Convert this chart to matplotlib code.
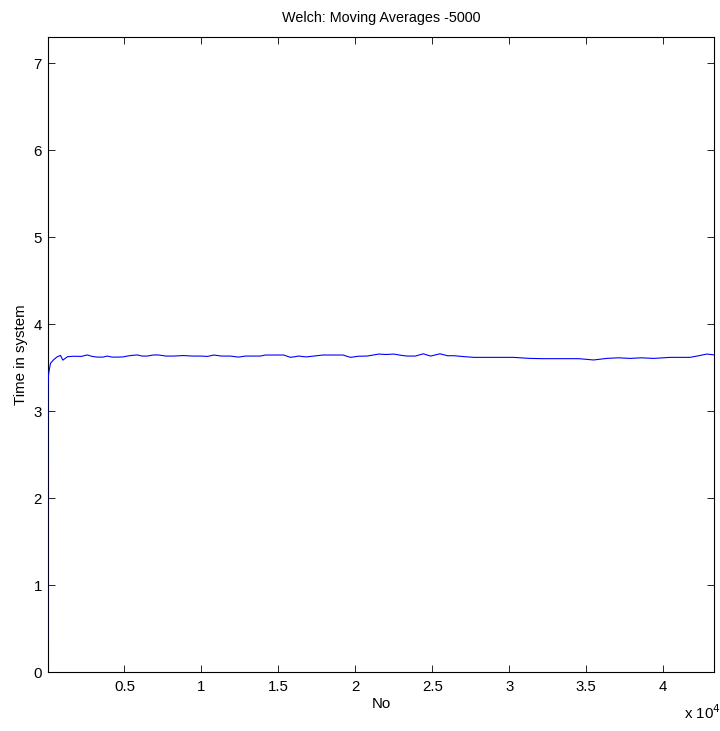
import matplotlib
matplotlib.use("Agg")
import matplotlib.pyplot as plt

plt.rcParams["font.family"] = ["Liberation Sans", "DejaVu Sans"]

# Welch moving-average of time in system (window 5000), by observation number
obs_no = [1, 3, 8, 20, 50, 100, 195, 400, 600, 844, 996, 1300, 1710, 2200, 2575,
          2900, 3225, 3600, 3875, 4200, 4525, 4900, 5175, 5500, 5825, 6150, 6475,
          6900, 7230, 7700, 8200, 8850, 9400, 9935, 10400, 10800, 11300, 11880,
          12400, 12860, 13300, 13830, 14160, 14600, 14915, 15350, 15790, 16330,
          16800, 17305, 17900, 18605, 19200, 19690, 20200, 20775, 21535, 22000,
          22510, 23000, 23380, 23900, 24420, 24895, 25500, 26000, 26415, 27100,
          27715, 28150, 29200, 30280, 31360, 32230, 33400, 34500, 35000, 35480,
          36345, 37100, 37860, 38600, 39380, 40460, 41100, 41760, 42300, 42845,
          43100, 43330]
avg_time = [0.39, 1.60, 2.70, 3.20, 3.39, 3.46, 3.55, 3.59, 3.62, 3.64, 3.585, 3.625,
            3.63, 3.628, 3.645, 3.628, 3.62, 3.62, 3.632, 3.62, 3.62, 3.622, 3.632,
            3.64, 3.645, 3.632, 3.632, 3.645, 3.644, 3.632, 3.632, 3.638, 3.632,
            3.632, 3.628, 3.644, 3.632, 3.632, 3.62, 3.632, 3.632, 3.632, 3.644,
            3.644, 3.644, 3.644, 3.617, 3.632, 3.622, 3.632, 3.644, 3.644, 3.644,
            3.617, 3.630, 3.632, 3.655, 3.650, 3.655, 3.640, 3.632, 3.632, 3.658,
            3.632, 3.658, 3.636, 3.636, 3.625, 3.617, 3.617, 3.617, 3.617, 3.605,
            3.602, 3.602, 3.602, 3.595, 3.587, 3.605, 3.612, 3.605, 3.612, 3.605,
            3.617, 3.617, 3.617, 3.635, 3.655, 3.650, 3.645]

x_ticks = [5000, 10000, 15000, 20000, 25000, 30000, 35000, 40000]
x_tick_labels = ["0.5", "1", "1.5", "2", "2.5", "3", "3.5", "4"]
y_ticks = [0, 1, 2, 3, 4, 5, 6, 7]

fig = plt.figure(figsize=(7.2, 7.31), dpi=100)
ax = fig.add_axes([0.066, 0.0807, 0.926, 0.8687])

ax.plot(obs_no, avg_time, color="#0000ff", linewidth=0.8, zorder=3)

ax.set_xlim(0, 43330)
ax.set_ylim(0, 7.3)
ax.set_xticks(x_ticks)
ax.set_xticklabels(x_tick_labels)
ax.set_yticks(y_ticks)

ax.tick_params(direction="in", length=5, width=0.6, labelsize=10.8,
               top=True, right=True, colors="black")
ax.tick_params(axis="x", pad=6)
ax.tick_params(axis="y", pad=4)
for sp in ax.spines.values():
    sp.set_linewidth(0.8)

ax.set_title("Welch: Moving Averages -5000", fontsize=10.4, pad=11)
ax.set_xlabel("No", fontsize=10.8, labelpad=2)
ax.set_ylabel("Time in system", fontsize=10.8, labelpad=4)

fig.text(0.95, 0.0165, r"x 10$^4$", fontsize=10.8, ha="left", va="baseline")

fig.savefig("out.png", dpi=100, facecolor="white")
